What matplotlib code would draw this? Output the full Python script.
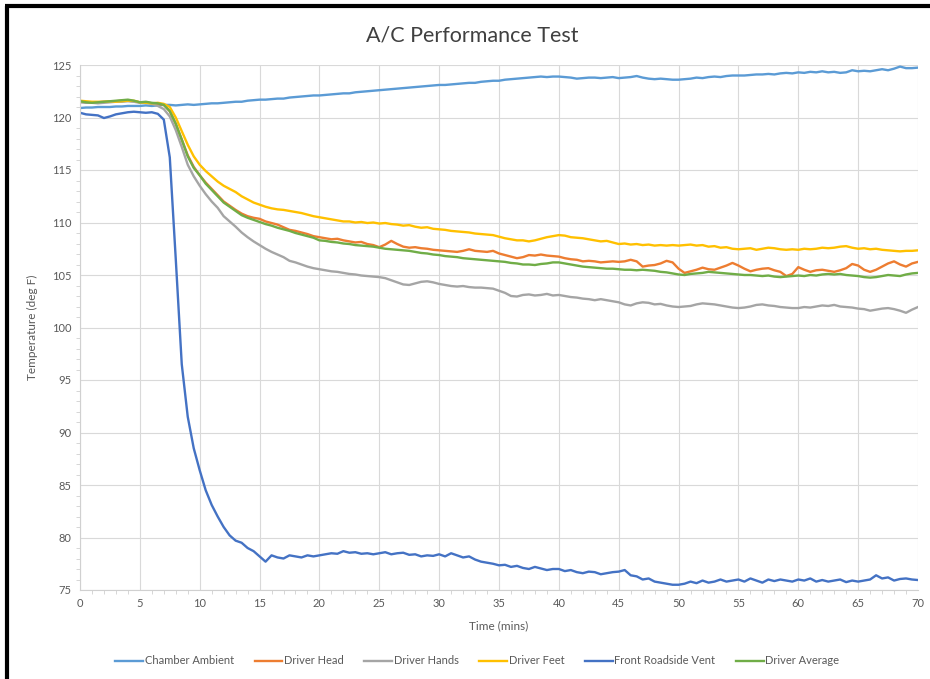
import numpy as np
import matplotlib
matplotlib.use("Agg")
import matplotlib.pyplot as plt
from matplotlib.lines import Line2D
from matplotlib.ticker import MultipleLocator

plt.rcParams['font.family'] = ['Lato', 'DejaVu Sans']

# time grid (minutes), one sample every half minute
time_min = np.arange(0, 70.5, 0.5)

chamber_ambient = [
    120.9, 120.95, 120.95, 121.0, 121.0, 121.0, 121.05, 121.05, 121.1, 121.1,
    121.1, 121.15, 121.1, 121.15, 121.2, 121.2, 121.15, 121.2, 121.25, 121.2,
    121.25, 121.3, 121.35, 121.35, 121.4, 121.45, 121.5, 121.5, 121.6, 121.65,
    121.7, 121.7, 121.75, 121.8, 121.8, 121.9, 121.95, 122.0, 122.05, 122.1,
    122.1, 122.15, 122.2, 122.25, 122.3, 122.3, 122.4, 122.45, 122.5, 122.55,
    122.6, 122.65, 122.7, 122.75, 122.8, 122.85, 122.9, 122.95, 123.0, 123.05,
    123.1, 123.1, 123.15, 123.2, 123.25, 123.3, 123.3, 123.4, 123.45, 123.5,
    123.5, 123.6, 123.65, 123.7, 123.75, 123.8, 123.85, 123.9, 123.85, 123.9,
    123.9, 123.85, 123.8, 123.7, 123.75, 123.8, 123.8, 123.75, 123.8, 123.85,
    123.75, 123.8, 123.85, 123.95, 123.8, 123.7, 123.65, 123.7, 123.65, 123.6,
    123.6, 123.65, 123.7, 123.8, 123.75, 123.85, 123.9, 123.85, 123.95, 124.0,
    124.0, 124.0, 124.05, 124.1, 124.1, 124.15, 124.1, 124.2, 124.25, 124.2,
    124.3, 124.25, 124.35, 124.3, 124.4, 124.3, 124.35, 124.25, 124.3, 124.5,
    124.4, 124.45, 124.4, 124.5, 124.6, 124.5, 124.65, 124.85, 124.7, 124.7,
    124.75]

driver_head = [
    121.5, 121.45, 121.4, 121.45, 121.5, 121.5, 121.55, 121.6, 121.6, 121.55,
    121.45, 121.45, 121.35, 121.3, 121.2, 120.6, 119.4, 117.9, 116.4, 115.3,
    114.5, 113.8, 113.2, 112.6, 112.0, 111.6, 111.2, 110.85, 110.6, 110.45,
    110.35, 110.1, 109.95, 109.8, 109.55, 109.3, 109.2, 109.05, 108.9, 108.7,
    108.6, 108.5, 108.4, 108.45, 108.3, 108.2, 108.1, 108.15, 107.95, 107.85,
    107.65, 107.9, 108.25, 107.95, 107.7, 107.6, 107.65, 107.55, 107.5, 107.4,
    107.35, 107.3, 107.25, 107.2, 107.3, 107.45, 107.3, 107.25, 107.2, 107.3,
    107.05, 106.9, 106.75, 106.6, 106.7, 106.9, 106.85, 106.95, 106.85, 106.8,
    106.75, 106.6, 106.5, 106.45, 106.3, 106.35, 106.3, 106.2, 106.25, 106.3,
    106.25, 106.3, 106.45, 106.3, 105.8, 105.9, 105.95, 106.1, 106.35, 106.2,
    105.6, 105.2, 105.35, 105.5, 105.7, 105.55, 105.5, 105.7, 105.9, 106.15,
    105.9, 105.6, 105.35, 105.5, 105.6, 105.65, 105.45, 105.3, 104.9, 105.1,
    105.75, 105.5, 105.3, 105.45, 105.5, 105.4, 105.3, 105.45, 105.65, 106.05,
    105.9, 105.5, 105.3, 105.5, 105.8, 106.1, 106.3, 106.0, 105.8, 106.1,
    106.25]

driver_hands = [
    121.45, 121.4, 121.4, 121.35, 121.4, 121.45, 121.5, 121.5, 121.55, 121.5,
    121.4, 121.4, 121.3, 121.1, 120.8, 120.1, 118.8, 117.2, 115.5, 114.4,
    113.5, 112.7, 112.0, 111.4, 110.6, 110.1, 109.6, 109.05, 108.6, 108.2,
    107.85, 107.5, 107.2, 106.95, 106.7, 106.35, 106.2, 106.0, 105.8, 105.65,
    105.55, 105.45, 105.35, 105.3, 105.2, 105.1, 105.05, 104.95, 104.9, 104.85,
    104.8, 104.7, 104.5, 104.3, 104.1, 104.05, 104.2, 104.35, 104.4, 104.3,
    104.15, 104.05, 103.95, 103.9, 103.95, 103.85, 103.8, 103.8, 103.75, 103.7,
    103.5, 103.3, 103.0, 102.95, 103.1, 103.15, 103.05, 103.1, 103.2, 103.05,
    103.1, 103.0, 102.9, 102.85, 102.75, 102.7, 102.6, 102.7, 102.6, 102.5,
    102.4, 102.2, 102.1, 102.3, 102.4, 102.35, 102.2, 102.25, 102.1, 102.0,
    101.95, 102.0, 102.05, 102.2, 102.3, 102.25, 102.2, 102.1, 102.0, 101.9,
    101.85, 101.9, 102.0, 102.15, 102.2, 102.1, 102.05, 101.95, 101.9, 101.85,
    101.85, 101.95, 101.9, 102.0, 102.1, 102.05, 102.15, 102.0, 101.95, 101.9,
    101.8, 101.75, 101.6, 101.7, 101.8, 101.85, 101.75, 101.6, 101.4, 101.7,
    101.95]

driver_feet = [
    121.6, 121.55, 121.5, 121.5, 121.5, 121.55, 121.5, 121.55, 121.6, 121.6,
    121.45, 121.4, 121.35, 121.4, 121.3, 121.0, 120.0, 118.7, 117.4, 116.3,
    115.5, 114.9, 114.4, 113.9, 113.5, 113.2, 112.9, 112.5, 112.2, 111.9,
    111.7, 111.5, 111.35, 111.25, 111.2, 111.1, 111.0, 110.9, 110.75, 110.6,
    110.5, 110.4, 110.3, 110.2, 110.1, 110.1, 110.0, 110.05, 109.95, 110.0,
    109.9, 109.95, 109.85, 109.8, 109.7, 109.75, 109.6, 109.5, 109.55, 109.4,
    109.35, 109.3, 109.2, 109.15, 109.1, 109.05, 108.95, 108.9, 108.85, 108.8,
    108.65, 108.5, 108.4, 108.3, 108.3, 108.2, 108.3, 108.45, 108.6, 108.7,
    108.8, 108.75, 108.6, 108.55, 108.5, 108.4, 108.3, 108.2, 108.25, 108.1,
    107.95, 108.0, 107.9, 107.95, 107.85, 107.9, 107.8, 107.85, 107.8, 107.85,
    107.8, 107.85, 107.9, 107.8, 107.85, 107.7, 107.75, 107.6, 107.65, 107.5,
    107.45, 107.5, 107.55, 107.4, 107.5, 107.6, 107.55, 107.45, 107.4, 107.45,
    107.4, 107.5, 107.45, 107.5, 107.6, 107.55, 107.6, 107.7, 107.75, 107.6,
    107.5, 107.55, 107.45, 107.5, 107.4, 107.35, 107.3, 107.25, 107.3, 107.3,
    107.35]

front_roadside_vent = [
    120.45, 120.3, 120.25, 120.2, 119.95, 120.1, 120.3, 120.4, 120.5, 120.55,
    120.5, 120.45, 120.5, 120.35, 119.8, 116.2, 106.5, 96.5, 91.5, 88.5,
    86.4, 84.5, 83.1, 82.0, 81.0, 80.2, 79.7, 79.5, 79.0, 78.7,
    78.2, 77.7, 78.3, 78.1, 78.0, 78.3, 78.2, 78.1, 78.3, 78.2,
    78.3, 78.4, 78.5, 78.45, 78.7, 78.55, 78.6, 78.45, 78.5, 78.4,
    78.5, 78.6, 78.4, 78.5, 78.55, 78.35, 78.4, 78.2, 78.3, 78.25,
    78.4, 78.2, 78.5, 78.3, 78.1, 78.2, 77.9, 77.7, 77.6, 77.5,
    77.35, 77.4, 77.2, 77.3, 77.1, 77.0, 77.2, 77.05, 76.9, 77.0,
    77.0, 76.8, 76.9, 76.7, 76.6, 76.75, 76.7, 76.5, 76.6, 76.7,
    76.75, 76.9, 76.4, 76.3, 76.0, 76.1, 75.8, 75.7, 75.6, 75.5,
    75.5, 75.6, 75.8, 75.65, 75.9, 75.7, 75.8, 76.0, 75.8, 75.9,
    76.0, 75.8, 76.1, 75.9, 75.7, 76.0, 75.85, 76.0, 75.9, 75.8,
    76.0, 75.9, 76.1, 75.8, 75.95, 75.8, 75.9, 76.0, 75.75, 75.9,
    75.8, 75.9, 76.0, 76.4, 76.1, 76.2, 75.9, 76.05, 76.1, 76.0,
    75.95]

driver_average = [
    121.55, 121.45, 121.4, 121.45, 121.5, 121.55, 121.6, 121.65, 121.7, 121.6,
    121.45, 121.5, 121.4, 121.35, 121.2, 120.6, 119.4, 117.9, 116.3, 115.2,
    114.5, 113.7, 113.1, 112.5, 111.9, 111.5, 111.1, 110.7, 110.45, 110.25,
    110.05, 109.85, 109.7, 109.5, 109.35, 109.2, 109.0, 108.85, 108.7, 108.55,
    108.3, 108.25, 108.15, 108.1, 108.0, 107.95, 107.85, 107.8, 107.75, 107.7,
    107.6, 107.5, 107.45, 107.4, 107.35, 107.3, 107.2, 107.1, 107.05, 106.95,
    106.9, 106.8, 106.75, 106.7, 106.6, 106.55, 106.5, 106.45, 106.4, 106.35,
    106.3, 106.25, 106.15, 106.1, 106.0, 106.0, 105.95, 106.05, 106.1, 106.2,
    106.2, 106.1, 106.0, 105.9, 105.8, 105.75, 105.7, 105.65, 105.6, 105.6,
    105.55, 105.5, 105.5, 105.45, 105.5, 105.45, 105.4, 105.3, 105.25, 105.15,
    105.05, 105.0, 105.1, 105.15, 105.2, 105.3, 105.25, 105.2, 105.15, 105.1,
    105.05, 105.0, 105.0, 104.95, 104.9, 104.95, 104.85, 104.8, 104.85, 104.9,
    104.95, 104.9, 105.0, 104.95, 105.05, 105.1, 105.05, 105.1, 105.0, 104.95,
    104.9, 104.8, 104.75, 104.8, 104.9, 105.0, 104.95, 104.9, 105.05, 105.15,
    105.2]

series_names = ["Chamber Ambient", "Driver Head", "Driver Hands",
                "Driver Feet", "Front Roadside Vent", "Driver Average"]
series_values = [chamber_ambient, driver_head, driver_hands,
                 driver_feet, front_roadside_vent, driver_average]
series_colors = ["#5B9BD5", "#ED7D31", "#A5A5A5", "#FFC000", "#4472C4", "#70AD47"]

x_ticks = list(range(0, 71, 5))
y_ticks = list(range(75, 126, 5))

fig = plt.figure(figsize=(9.3, 6.79), dpi=100)
ax = fig.add_axes([80 / 930, 1 - 590 / 679, 838 / 930, 525 / 679])

for name, vals, col in zip(series_names, series_values, series_colors):
    ax.plot(time_min, vals, color=col, lw=1.7, label=name, solid_joinstyle='round')

ax.set_xlim(0, 70)
ax.set_ylim(75, 125)
ax.set_xticks(x_ticks)
ax.set_yticks(y_ticks)
ax.xaxis.set_minor_locator(MultipleLocator(1))
ax.yaxis.set_minor_locator(MultipleLocator(1))
ax.grid(True, which='major', color='#D9D9D9', lw=0.8)
ax.set_axisbelow(True)
for s in ['top', 'right']:
    ax.spines[s].set_visible(False)
for s in ['left', 'bottom']:
    ax.spines[s].set_color('#D0D0D0')
    ax.spines[s].set_linewidth(0.8)
ax.tick_params(which='major', length=0, labelsize=8, labelcolor='#595959', pad=6)
ax.tick_params(which='minor', length=3, color='#D0D0D0', direction='out')

ax.set_xlabel("Time (mins)", fontsize=8.5, color='#595959', labelpad=8)
ax.set_ylabel("Temperature (deg F)", fontsize=8.5, color='#595959', labelpad=10)
fig.text(0.508, 1 - 35 / 679, "A/C Performance Test", ha='center', va='center',
         fontsize=15.5, color='#404040')

leg = fig.legend(loc='center', bbox_to_anchor=(0.5133, 1 - 661 / 679), ncol=6,
                 frameon=False, fontsize=8, handlelength=2.5, columnspacing=1.85,
                 handletextpad=0.15)
for t in leg.get_texts():
    t.set_color('#595959')

# black frame at left and top edges of the screenshot
fig.add_artist(Line2D([6.5 / 930, 6.5 / 930], [0, 1 - 6 / 679], color='black', lw=3,
                      transform=fig.transFigure, solid_capstyle='butt'))
fig.add_artist(Line2D([5 / 930, 1], [1 - 5.5 / 679, 1 - 5.5 / 679], color='black', lw=3,
                      transform=fig.transFigure, solid_capstyle='butt'))

fig.savefig("out.png", dpi=100)
